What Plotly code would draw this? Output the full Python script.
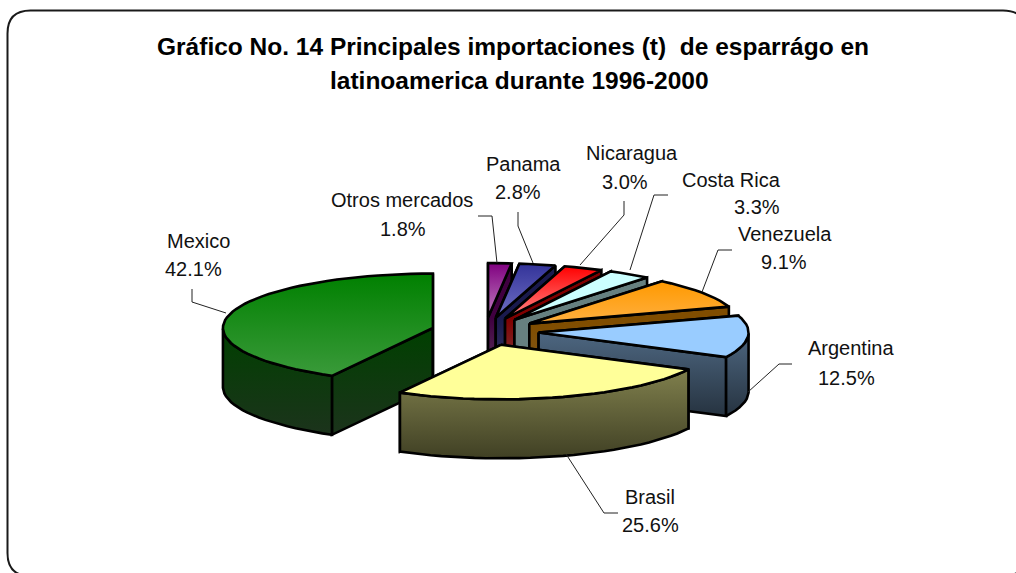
import math
import plotly.graph_objects as go

# ---- data (clockwise from 12 o'clock) ----
paises = ["Otros mercados", "Panama", "Nicaragua", "Costa Rica", "Venezuela", "Argentina", "Brasil", "Mexico"]
participacion = [1.8, 2.8, 3.0, 3.3, 9.1, 12.5, 25.6, 42.1]

# ---- style ----
top_start = ["#800080", "#333399", "#FF0000", "#CCFFFF", "#FF9900", "#99CCFF", "#FFFF99", "#008000"]
top_stop = ["#C080C0", "#7070C4", "#FF8888", "#CCFFFF", "#FFB040", "#99CCFF", "#FFFF99", "#3A9A3A"]
wall_start = ["#400040", "#1A1A4D", "#800000", "#668080", "#804D00", "#4D6680", "#80804D", "#004000"]
wall_stop = ["#5E3A5E", "#3A3A66", "#804848", "#668080", "#805A20", "#263340", "#404024", "#1C331C"]

CX, CY = 485.0, 331.5      # pie centre on the page
RX, RY = 210.0, 54.5       # ellipse radii of the top face
DEPTH = 59.0               # height of the extrusion
EXPLODE = 0.256            # fraction of radius every slice is pulled out
OUTLINE = 2.6

# labels: (text, centre x, centre y)
titulo = ["Gráfico No. 14 Principales importaciones (t)  de esparrágo en",
          "latinoamerica durante 1996-2000"]
titulo_pos = [(513, 46), (519, 80)]
etiquetas = {
    "Otros mercados": ((402, 200), (403, 229)),
    "Panama": ((523, 164), (518, 192)),
    "Nicaragua": ((632, 153), (625, 182)),
    "Costa Rica": ((731, 180), (757, 207)),
    "Venezuela": ((785, 234), (784, 262)),
    "Argentina": ((851, 348), (846, 378)),
    "Brasil": ((650, 497), (650, 525)),
    "Mexico": ((198, 241), (193, 269)),
}
guias = {
    "Otros mercados": [(478, 216), (492, 216), (497, 263)],
    "Panama": [(518, 212), (518, 226), (533, 263)],
    "Nicaragua": [(624, 201), (624, 215), (580, 265)],
    "Costa Rica": [(668, 195), (654, 195), (630, 270)],
    "Venezuela": [(732, 250), (718, 250), (702, 292)],
    "Argentina": [(792, 364), (779, 364), (748, 392)],
    "Brasil": [(618, 513), (604, 513), (566, 454)],
    "Mexico": [(192, 289), (192, 302), (226, 313)],
}

fig = go.Figure()


def poly(xs, ys, c0, c1, y0, y1):
    fig.add_trace(go.Scatter(
        x=xs, y=ys, mode="lines", fill="toself",
        line=dict(color="black", width=OUTLINE, shape="linear"),
        fillgradient=dict(type="vertical", colorscale=[[0, c0], [1, c1]], start=y0, stop=y1),
        hoverinfo="skip", showlegend=False))


total = sum(participacion)
acum = 0.0
spans = []
for v in participacion:
    spans.append((acum, acum + v / total * 360.0))
    acum += v / total * 360.0

# back slices first, then the two nearest the viewer
orden = [0, 1, 2, 3, 4, 5, 7, 6]
for i in orden:
    a0, a1 = spans[i]
    mid = math.radians((a0 + a1) / 2)
    ax = CX + EXPLODE * RX * math.sin(mid)
    ay = CY - EXPLODE * RY * math.cos(mid)
    n = max(4, int((a1 - a0) / 3))
    ang = [a0 + (a1 - a0) * k / n for k in range(n + 1)]
    rx = [ax + RX * math.sin(math.radians(a)) for a in ang]
    ry = [ay - RY * math.cos(math.radians(a)) for a in ang]

    # gradient span of the side walls
    front = [y for a, y in zip(ang, ry) if 90 <= a <= 270]
    wy0 = min(front) if front else ay
    wy1 = max(ry + [ay]) + DEPTH
    # radial walls
    for px, py in ((rx[0], ry[0]), (rx[-1], ry[-1])):
        poly([ax, px, px, ax, ax], [ay, py, py + DEPTH, ay + DEPTH, ay],
             wall_start[i], wall_stop[i], wy0, wy1)
    # outer wall, front-facing part only
    idx = [k for k, a in enumerate(ang) if 90 <= a <= 270]
    if len(idx) > 1:
        fx = [rx[k] for k in idx]
        fy = [ry[k] for k in idx]
        poly(fx + fx[::-1] + [fx[0]], fy + [y + DEPTH for y in fy[::-1]] + [fy[0]],
             wall_start[i], wall_stop[i], wy0, wy1)
    # top face
    tx = [ax] + rx + [ax]
    ty = [ay] + ry + [ay]
    poly(tx, ty, top_start[i], top_stop[i], min(ty), max(ty))

# leader lines
for nombre in paises:
    pts = guias[nombre]
    fig.add_trace(go.Scatter(x=[p[0] for p in pts], y=[p[1] for p in pts], mode="lines",
                             line=dict(color="#222222", width=1), hoverinfo="skip", showlegend=False))

# text
ann = []
for t, (x, y), s in zip(titulo, titulo_pos, (24.5, 24.5)):
    ann.append(dict(x=x, y=y, text="<b>%s</b>" % t, showarrow=False, xref="x", yref="y",
                    xanchor="center", yanchor="middle",
                    font=dict(family="Liberation Sans", size=s, color="black")))
for nombre, v in zip(paises, participacion):
    (x1, y1), (x2, y2) = etiquetas[nombre]
    for t, x, y in ((nombre, x1, y1), ("%.1f%%" % v, x2, y2)):
        ann.append(dict(x=x, y=y, text=t, showarrow=False, xref="x", yref="y",
                        xanchor="center", yanchor="middle",
                        font=dict(family="Liberation Sans", size=20, color="#111111")))

# rounded chart frame
L, T, R, B, r = 7.5, 10.5, 1026, 576, 23
marco = (f"M {L+r} {T} L {R-r} {T} Q {R} {T} {R} {T+r} L {R} {B-r} Q {R} {B} {R-r} {B} "
         f"L {L+r} {B} Q {L} {B} {L} {B-r} L {L} {T+r} Q {L} {T} {L+r} {T} Z")

fig.update_layout(
    width=1016, height=573, margin=dict(l=0, r=0, t=0, b=0),
    paper_bgcolor="white", plot_bgcolor="white", showlegend=False,
    xaxis=dict(range=[0, 1016], visible=False, fixedrange=True),
    yaxis=dict(range=[573, 0], visible=False, fixedrange=True),
    annotations=ann,
    shapes=[dict(type="path", path=marco, xref="x", yref="y",
                 line=dict(color="#1a1a1a", width=2), layer="below")],
)
fig.write_html("out.html", config={"displayModeBar": False},
               post_script="document.body.style.margin='0';")
